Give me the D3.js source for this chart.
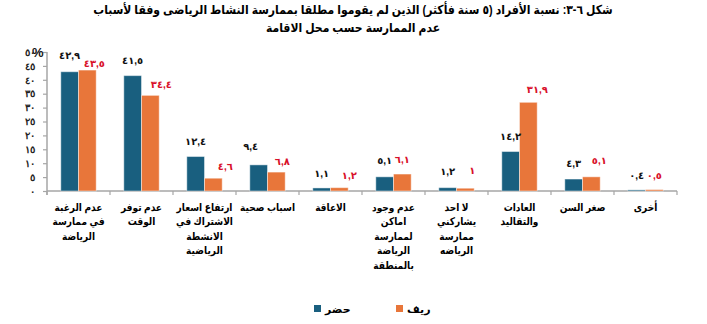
<!DOCTYPE html>
<html lang="ar">
<head>
<meta charset="utf-8">
<script src="https://cdn.jsdelivr.net/npm/d3@7"></script>
<style>
  html, body { margin: 0; padding: 0; background: #ffffff; }
  svg { display: block; font-family: Arial, "DejaVu Sans", sans-serif; }
</style>
</head>
<body>
<svg id="chart" width="707" height="324"></svg>
<script>
// Reasons for never practising sport, by place of residence (%)
const categories = [
  ["عدم الرغبة", "في ممارسة", "الرياضة"],
  ["عدم توفر", "الوقت"],
  ["ارتفاع اسعار", "الاشتراك في", "الانشطة", "الرياضية"],
  ["اسباب صحية"],
  ["الاعاقة"],
  ["عدم وجود", "اماكن", "لممارسة", "الرياضة", "بالمنطقة"],
  ["لا احد", "يشاركني", "ممارسة", "الرياضه"],
  ["العادات", "والتقاليد"],
  ["صغر السن"],
  ["أخرى"]
];
const urbanValues = [42.9, 41.5, 12.4, 9.4, 1.1, 5.1, 1.2, 14.2, 4.3, 0.4];
const ruralValues = [43.5, 34.4, 4.6, 6.8, 1.2, 6.1, 1, 31.9, 5.1, 0.5];
const seriesNames = ["حضر", "ريف"];
const yTicks = [0, 5, 10, 15, 20, 25, 30, 35, 40, 45, 50];
const titleLines = [
  "شكل ٦-٣: نسبة الأفراد (٥ سنة فأكثر) الذين لم يقوموا مطلقا بممارسة النشاط الرياضى وفقا لأسباب",
  "عدم الممارسة حسب محل الاقامة"
];

// hand-placed data label nudges (px)
const urbanLabelDx   = [0, 0, 0, -8, 0, 0, 0, 0, 0, 0];
const urbanLabelLift = [16, 15, 15, 18, 14, 16, 16, 15, 16, 14];
const ruralLabelDx   = [7, 11, 12, 6, 10, 0, 7, 9, 8, 0];
const ruralLabelLift = [7, 11, 12, 11, 12, 15, 18, 13, 16, 14];

const colors = ["#195f7f", "#e8763a"];
const labelColors = ["#111111", "#d8102a"];

const arabicDigits = "٠١٢٣٤٥٦٧٨٩";
const toArabic = v => String(v).replace(".", ",").replace(/\d/g, d => arabicDigits[+d]);
// wrap a string in a right-to-left embedding so punctuation orders correctly
const rtl = s => "\u202B" + s + "\u202C";

const svg = d3.select("#chart");
const plotLeft = 47, plotRight = 677, plotTop = 52, plotBottom = 191;

const x0 = d3.scaleBand().domain(d3.range(categories.length)).range([plotLeft, plotRight]).paddingInner(0).paddingOuter(0);
const x1 = d3.scaleBand().domain([0, 1]).range([0, x0.bandwidth()]).paddingInner(0).paddingOuter(0.78);
const y = d3.scaleLinear().domain([0, 50]).range([plotBottom, plotTop]);

// title: two centred lines, condensed to the width of the heading block
const titleCx = 353, titleWidth = 520;
const titleG = svg.append("g");
const titleTexts = titleG.selectAll("text").data(titleLines).join("text")
  .attr("x", 0).attr("y", (d, i) => 14 + i * 18)
  .attr("text-anchor", "middle")
  .attr("font-size", 12.5).attr("font-weight", "bold").attr("fill", "#000")
  .text(d => rtl(d));
const tw = titleTexts.nodes()[0].getComputedTextLength();
const ts = Math.min(1, titleWidth / tw);
titleG.attr("transform", `translate(${titleCx},0) scale(${ts},1)`);

// y axis
const yAxis = d3.axisLeft(y).tickValues(yTicks).tickSize(4).tickPadding(8).tickFormat(toArabic);
const gy = svg.append("g").attr("transform", `translate(${plotLeft},0)`).call(yAxis);
gy.select(".domain").attr("stroke", "#a6a6a6").attr("stroke-width", 1.5).attr("d", `M0,${plotBottom + 4}V${plotTop}`);
gy.selectAll(".tick line").attr("stroke", "#a6a6a6").attr("stroke-width", 1.2);
gy.selectAll(".tick text").attr("font-size", 10).attr("font-weight", "bold").attr("fill", "#222");

// percent sign above the axis
svg.append("text").attr("x", 32).attr("y", 57)
  .attr("font-size", 13).attr("font-weight", "bold").attr("fill", "#111")
  .text("%");

// x axis baseline and band boundary ticks
const gx = svg.append("g");
gx.append("line").attr("x1", plotLeft).attr("x2", plotRight).attr("y1", plotBottom).attr("y2", plotBottom)
  .attr("stroke", "#a6a6a6").attr("stroke-width", 1.5);
gx.selectAll("line.tick").data(d3.range(categories.length + 1)).join("line")
  .attr("class", "tick")
  .attr("x1", i => plotLeft + i * x0.step()).attr("x2", i => plotLeft + i * x0.step())
  .attr("y1", plotBottom).attr("y2", plotBottom + 4)
  .attr("stroke", "#a6a6a6").attr("stroke-width", 1.2);

// bars
const rows = categories.map((c, i) => ({ i, vals: [urbanValues[i], ruralValues[i]] }));
const groups = svg.append("g").selectAll("g").data(rows).join("g")
  .attr("transform", d => `translate(${x0(d.i)},0)`);

groups.selectAll("rect").data(d => d.vals.map((v, s) => ({ v, s }))).join("rect")
  .attr("x", d => x1(d.s)).attr("width", x1.bandwidth())
  .attr("y", d => y(d.v)).attr("height", d => y(0) - y(d.v))
  .attr("fill", d => colors[d.s])
  .attr("stroke", "#ffffff").attr("stroke-opacity", 0.45).attr("stroke-width", 1);

// data labels
groups.selectAll("text.val").data(d => d.vals.map((v, s) => ({ v, s, i: d.i }))).join("text")
  .attr("class", "val")
  .attr("x", d => x1(d.s) + x1.bandwidth() / 2 + (d.s === 0 ? urbanLabelDx[d.i] : ruralLabelDx[d.i]))
  .attr("y", d => y(d.v) - (d.s === 0 ? urbanLabelLift[d.i] : ruralLabelLift[d.i]))
  .attr("dy", "0.35em")
  .attr("text-anchor", "middle")
  .attr("font-size", 10).attr("font-weight", "bold")
  .attr("letter-spacing", 1.5)
  .attr("fill", d => labelColors[d.s])
  .text(d => toArabic(d.v));

// category labels, slightly condensed so neighbouring labels keep apart
const probe = svg.append("text").attr("font-size", 10.5).attr("font-weight", "bold").text(categories[0][0]);
const catScale = Math.min(1, 48 / probe.node().getComputedTextLength());
probe.remove();

const catG = svg.append("g");
categories.forEach((lines, i) => {
  const cx = x0(i) + x0.bandwidth() / 2;
  catG.append("g")
    .attr("transform", `translate(${cx},0) scale(${catScale},1)`)
    .append("text")
    .attr("x", 0).attr("y", 207)
    .attr("text-anchor", "middle")
    .attr("font-size", 10.5).attr("font-weight", "bold").attr("fill", "#000")
    .selectAll("tspan").data(lines).join("tspan")
    .attr("x", 0)
    .attr("dy", (d, k) => k === 0 ? "0.35em" : 14.5)
    .text(d => d);
});

// legend
const legend = svg.append("g");
const legendX = [314, 396];
seriesNames.forEach((name, s) => {
  legend.append("rect").attr("x", legendX[s]).attr("y", 305).attr("width", 7).attr("height", 7)
    .attr("fill", colors[s]);
  legend.append("text").attr("x", legendX[s] + 11).attr("y", 309).attr("dy", "0.35em")
    .attr("text-anchor", "start")
    .attr("font-size", 11).attr("font-weight", "bold").attr("fill", "#000")
    .text(name);
});
</script>
</body>
</html>
